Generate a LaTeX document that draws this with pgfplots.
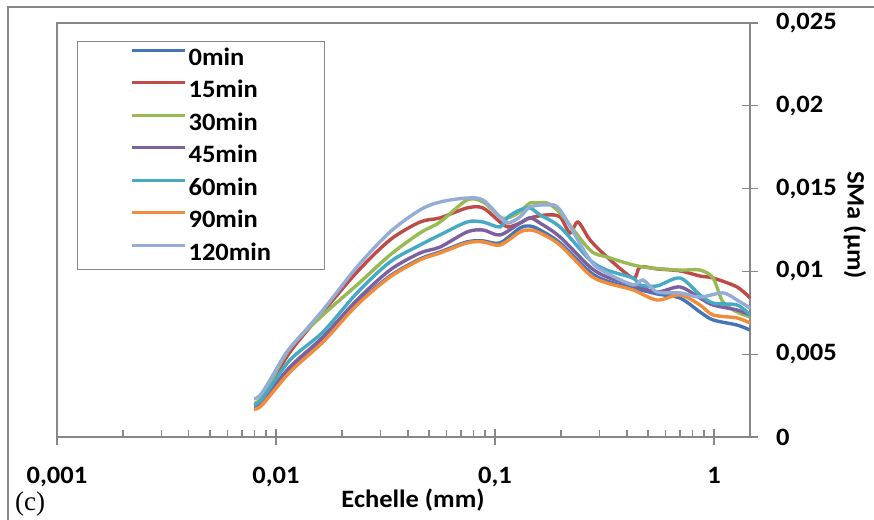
\documentclass[border=0pt]{standalone}
\usepackage{pgfplots}
\pgfplotsset{compat=1.18}
\usepackage{fontspec}
\setmainfont{Carlito}[FakeStretch=1.06]
\newfontfamily\seriffont{Liberation Serif}
\definecolor{axgray}{HTML}{878787}
\definecolor{cA}{HTML}{4675B6}
\definecolor{cB}{HTML}{BE4B48}
\definecolor{cC}{HTML}{98B954}
\definecolor{cD}{HTML}{7D60A0}
\definecolor{cE}{HTML}{46AAC5}
\definecolor{cF}{HTML}{F08C3C}
\definecolor{cG}{HTML}{93ADD6}
\newcommand{\lblfont}{\bfseries\fontsize{25bp}{30bp}\selectfont}

\pgfplotstableread{
x y
0.00794 0.00181
0.00863 0.00205
0.01159 0.00399
0.01639 0.00580
0.02343 0.00803
0.03315 0.00972
0.04545 0.01075
0.05609 0.01117
0.07450 0.01178
0.08816 0.01184
0.1054 0.01172
0.1301 0.01262
0.1445 0.01274
0.1605 0.01250
0.1981 0.01172
0.2715 0.00996
0.3247 0.00942
0.4267 0.00900
0.5492 0.00864
0.6995 0.00839
0.8632 0.00755
0.9895 0.00707
1.2736 0.00676
1.460 0.00646
}\tA
\pgfplotstableread{
x y
0.00794 0.00199
0.00863 0.00236
0.01159 0.00513
0.01639 0.00755
0.02343 0.00996
0.03315 0.01190
0.04545 0.01298
0.05609 0.01323
0.07450 0.01383
0.08816 0.01383
0.1054 0.01298
0.1147 0.01268
0.1301 0.01292
0.1445 0.01323
0.1728 0.01341
0.1981 0.01329
0.2200 0.01232
0.2393 0.01298
0.2715 0.01190
0.3247 0.01087
0.4267 0.00960
0.4594 0.01027
0.5492 0.01015
0.6995 0.01003
0.8632 0.00972
0.9895 0.00960
1.2736 0.00906
1.460 0.00839
}\tB
\pgfplotstableread{
x y
0.00794 0.00205
0.00863 0.00242
0.01159 0.00537
0.01639 0.00737
0.02343 0.00918
0.03315 0.01099
0.04545 0.01232
0.05609 0.01298
0.07450 0.01431
0.08816 0.01419
0.1054 0.01329
0.1147 0.01323
0.1301 0.01359
0.1445 0.01413
0.1605 0.01413
0.1728 0.01413
0.1981 0.01353
0.2715 0.01129
0.3247 0.01087
0.4267 0.01039
0.5103 0.01021
0.6995 0.01008
0.8632 0.01008
0.9895 0.00960
1.0991 0.00815
1.2736 0.00755
1.460 0.00725
}\tC
\pgfplotstableread{
x y
0.00794 0.00187
0.00863 0.00217
0.01159 0.00423
0.01639 0.00604
0.02343 0.00827
0.03315 0.01008
0.04545 0.01111
0.05609 0.01147
0.07450 0.01238
0.08816 0.01250
0.1054 0.01220
0.1301 0.01292
0.1445 0.01323
0.1605 0.01292
0.1981 0.01208
0.2715 0.01027
0.3247 0.00966
0.4267 0.00918
0.5492 0.00876
0.6995 0.00906
0.8632 0.00839
0.9895 0.00797
1.2736 0.00767
1.460 0.00737
}\tD
\pgfplotstableread{
x y
0.00794 0.00193
0.00863 0.00230
0.01159 0.00465
0.01639 0.00634
0.02343 0.00870
0.03315 0.01057
0.04545 0.01159
0.05609 0.01220
0.07450 0.01298
0.08816 0.01298
0.1054 0.01268
0.1147 0.01329
0.1301 0.01371
0.1445 0.01383
0.1605 0.01341
0.1981 0.01268
0.2715 0.01069
0.3247 0.01008
0.4267 0.00960
0.4594 0.00918
0.5492 0.00912
0.6995 0.00960
0.8632 0.00858
0.9895 0.00809
1.2736 0.00797
1.460 0.00737
}\tE
\pgfplotstableread{
x y
0.00794 0.00169
0.00863 0.00193
0.01159 0.00393
0.01639 0.00574
0.02343 0.00797
0.03315 0.00966
0.04545 0.01069
0.05609 0.01111
0.07450 0.01172
0.08816 0.01178
0.1054 0.01159
0.1301 0.01238
0.1445 0.01250
0.1605 0.01232
0.1981 0.01159
0.2715 0.00978
0.3247 0.00930
0.4267 0.00888
0.5492 0.00827
0.6995 0.00858
0.8632 0.00797
0.9895 0.00737
1.2736 0.00719
1.460 0.00688
}\tF
\pgfplotstableread{
x y
0.00794 0.00230
0.00863 0.00266
0.01076 0.00477
0.01159 0.00537
0.01639 0.00767
0.02343 0.01027
0.03315 0.01238
0.04545 0.01371
0.05609 0.01419
0.07450 0.01443
0.08816 0.01431
0.1054 0.01329
0.1147 0.01292
0.1301 0.01329
0.1445 0.01389
0.1728 0.01401
0.1981 0.01371
0.2715 0.01069
0.3247 0.00990
0.4267 0.00918
0.4741 0.00948
0.5492 0.00876
0.6995 0.00870
0.8632 0.00845
1.0991 0.00870
1.2736 0.00827
1.460 0.00779
}\tG

\begin{document}
\begin{tikzpicture}[x=1bp,y=1bp]
\path[use as bounding box] (0,0) rectangle (874,520);
\draw[axgray, line width=1.2bp] (8,-5) -- (8,513) -- (880,513);
\begin{axis}[
  at={(57bp,83bp)}, anchor=south west,
  scale only axis, width=693bp, height=414bp,
  xmode=log, xmin=0.001, xmax=1.46, ymin=0, ymax=0.025,
  scaled y ticks=false,
  axis x line*=bottom, axis y line*=right,
  axis line style={axgray, line width=1.3bp, -},
  every tick/.style={axgray, line width=1.3bp},
  tick align=center,
  major tick length=16bp, minor tick length=7bp,
  every minor tick/.append style={yshift=3.5bp},
  xtick={0.001,0.01,0.1,1},
  xticklabels={{0,001},{0,01},{0,1},{1}},
  ytick={0,0.005,0.01,0.015,0.02,0.025},
  yticklabels={{0},{0,005},{0,01},{0,015},{0,02},{0,025}},
  minor y tick num=0,
  xticklabel style={font=\lblfont, anchor=north, inner sep=0pt, yshift=-22bp},
  yticklabel style={font=\lblfont, anchor=west, inner sep=0pt, xshift=18bp},
  legend cell align=left,
  legend image code/.code={\draw[#1, line width=3bp] (0bp,8bp) -- (53bp,8bp);},
  legend style={draw=axgray, line width=1.2bp, fill=white,
    at={(0.02886,0.95652)}, anchor=north west,
    inner xsep=53bp, inner ysep=5.5bp, row sep=10.5bp, column sep=2bp,
    nodes={inner sep=0pt, text height=18bp, text depth=4bp},
    font=\lblfont},
  clip=false,
]
\addplot[cA, line width=3.4bp, smooth] table {\tA};
\addlegendentry{0min}
\addplot[cB, line width=3.4bp, smooth] table {\tB};
\addlegendentry{15min}
\addplot[cC, line width=3.4bp, smooth] table {\tC};
\addlegendentry{30min}
\addplot[cD, line width=3.4bp, smooth] table {\tD};
\addlegendentry{45min}
\addplot[cE, line width=3.4bp, smooth] table {\tE};
\addlegendentry{60min}
\addplot[cF, line width=3.4bp, smooth] table {\tF};
\addlegendentry{90min}
\addplot[cG, line width=3.4bp, smooth] table {\tG};
\addlegendentry{120min}
\draw[axgray, line width=1.3bp] (rel axis cs:0,0) -- (rel axis cs:0,1) -- (rel axis cs:1,1);
\end{axis}
\node[font=\lblfont, inner sep=0pt] at (413,20) {Echelle (mm)};
\node[font=\lblfont, inner sep=0pt, rotate=-90] at (855,295) {SMa (µm)};
\node[font=\seriffont\fontsize{27bp}{30bp}\selectfont, inner sep=0pt, anchor=base west] at (15,9) {(c)};
\end{tikzpicture}
\end{document}
